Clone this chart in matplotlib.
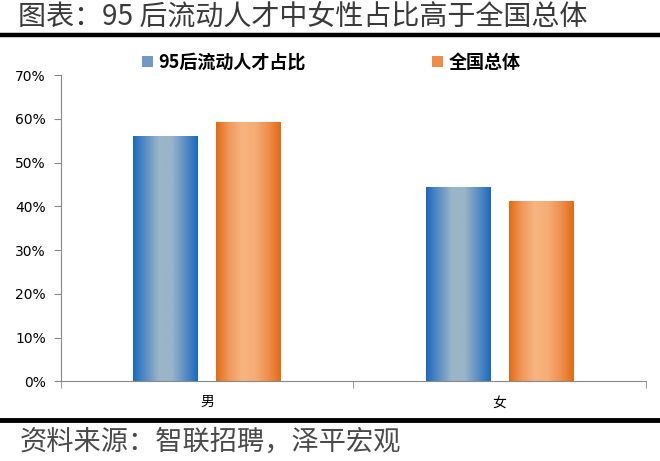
import numpy as np
import matplotlib
matplotlib.use("Agg")
import matplotlib.pyplot as plt
from matplotlib.colors import LinearSegmentedColormap
from matplotlib.patches import Patch
from matplotlib.lines import Line2D

plt.rcParams['font.family'] = ['Noto Sans CJK SC', 'DejaVu Sans']

categories = ['男', '女']
series_names = ['95后流动人才占比', '全国总体']
talent95 = [0.558, 0.442]
national = [0.590, 0.410]
yticks = [0, 0.1, 0.2, 0.3, 0.4, 0.5, 0.6, 0.7]
title = '图表：95 后流动人才中女性占比高于全国总体'
source = '资料来源：智联招聘，泽平宏观'

blue_cmap = LinearSegmentedColormap.from_list(
    'b', ['#1a68c2', '#5b8fc4', '#9bb6c8', '#9ab4c8', '#5b8fc4', '#1a68c2'])
orange_cmap = LinearSegmentedColormap.from_list(
    'o', ['#e36a12', '#f09a5c', '#f8b47f', '#f6ad76', '#ee9050', '#e36a12'])

fig = plt.figure(figsize=(6.6, 4.61), dpi=100)
ax = fig.add_axes([0.0924, 0.1725, 0.8864, 0.6648])

x = np.arange(len(categories))
w = 0.222
off = 0.142
grad = np.linspace(0, 1, 256).reshape(1, -1)
for vals, cmap, sign in [(talent95, blue_cmap, -1), (national, orange_cmap, 1)]:
    bars = ax.bar(x + sign * off, vals, width=w, color='none', edgecolor='none')
    for b in bars:
        x0, y0 = b.get_x(), b.get_y()
        ax.imshow(grad, cmap=cmap, aspect='auto', interpolation='bicubic',
                  extent=[x0, x0 + b.get_width(), y0, y0 + b.get_height()], zorder=2)

ax.set_xlim(-0.5, 1.5)
ax.set_ylim(0, 0.7)
ax.set_yticks(yticks)
ax.set_yticklabels([f'{int(round(t*100))}%' for t in yticks], fontsize=10,
                   family=['DejaVu Sans'])
ax.set_xticks(x)
ax.set_xticklabels(categories, fontsize=10)
ax.set_xticks([-0.5, 0.5, 1.5], minor=True)
ax.tick_params(axis='x', which='major', length=0, pad=10)
ax.tick_params(axis='x', which='minor', length=5, color='#888888')
ax.tick_params(axis='y', length=5, color='#888888', pad=6)
for s in ['top', 'right']:
    ax.spines[s].set_visible(False)
for s in ['left', 'bottom']:
    ax.spines[s].set_color('#888888')

handles = [Patch(facecolor='#6f9ac6', edgecolor='none'),
           Patch(facecolor='#ee8c48', edgecolor='none')]
leg = fig.legend(handles, series_names, loc='center left',
                 bbox_to_anchor=(0.191, 0.865), ncol=2, frameon=False,
                 prop={'weight': 'bold', 'size': 13},
                 handlelength=0.6, handleheight=0.6, handletextpad=0.3,
                 columnspacing=7.0)

fig.text(0.027, 0.962, title, fontsize=20.2, va='center', ha='left',
         color='#3a3a3a', weight='light')
fig.add_artist(Line2D([0, 1], [0.924, 0.924], color='black', lw=3.2,
                      transform=fig.transFigure))
fig.add_artist(Line2D([0, 1], [0.089, 0.089], color='black', lw=3.5,
                      transform=fig.transFigure))
fig.text(0.030, 0.040, source, fontsize=19.6, va='center', ha='left',
         color='#4a4a4a', weight='light')

fig.savefig('out.png', dpi=100)
